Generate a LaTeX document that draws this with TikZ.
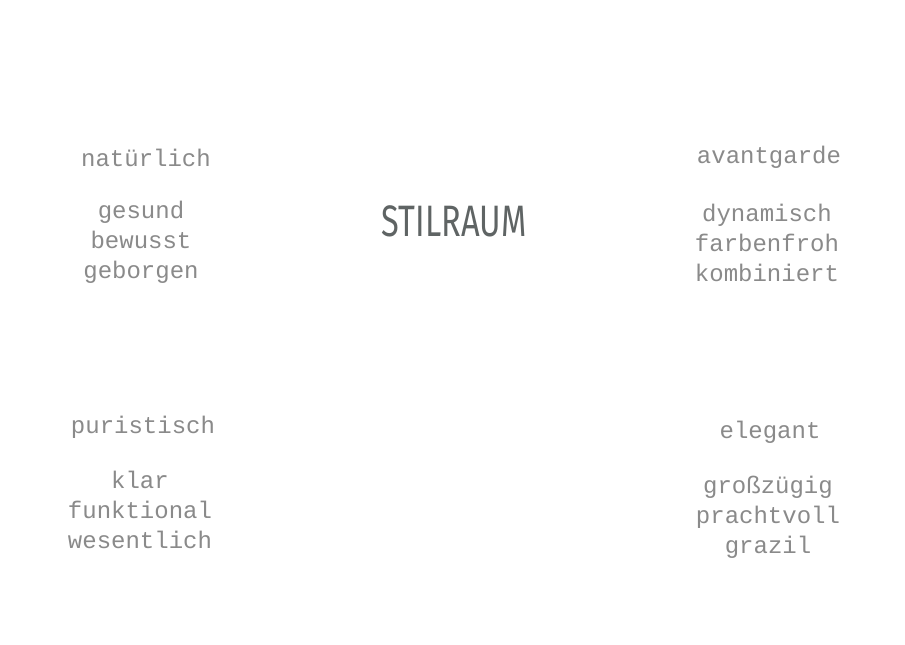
\documentclass[tikz,border=0pt]{standalone}
\usepackage{fontspec}
\usepackage{xcolor}
\usepackage{tikz}
\usetikzlibrary{positioning}
\setmonofont{Liberation Mono}
\newfontfamily\titlefont{Fira Sans}
\definecolor{wordgray}{HTML}{8A8A8A}
\definecolor{titlegray}{HTML}{5F6464}

\begin{document}
\begin{tikzpicture}[x=1pt,y=-1pt]
\tikzstyle{word}=[inner sep=0pt,text=wordgray,align=center,font=\ttfamily\fontsize{24}{30}\selectfont]
\tikzstyle{title}=[inner sep=0pt,text=titlegray,font=\titlefont\fontsize{44}{50}\selectfont]
\useasboundingbox[fill=white] (0,0) rectangle (905,645);
\node[title] (stil) at (454,221) {\scalebox{0.74}[1]{STILRAUM}};
% oben links
\node[word] (nat) at (146,158) {natürlich};
\node[word] (natlist) at (141,242) {gesund\\bewusst\\geborgen};
% oben rechts
\node[word] (avant) at (769,157) {avantgarde};
\node[word] (avantlist) at (767,243) {dynamisch\\farbenfroh\\kombiniert};
% unten links
\node[word] (pur) at (143,427) {puristisch};
\node[word] (purlist) at (140,510) {klar\\funktional\\wesentlich};
% unten rechts
\node[word] (eleg) at (770,432) {elegant};
\node[word] (eleglist) at (768,517) {großzügig\\prachtvoll\\grazil};
\end{tikzpicture}
\end{document}
